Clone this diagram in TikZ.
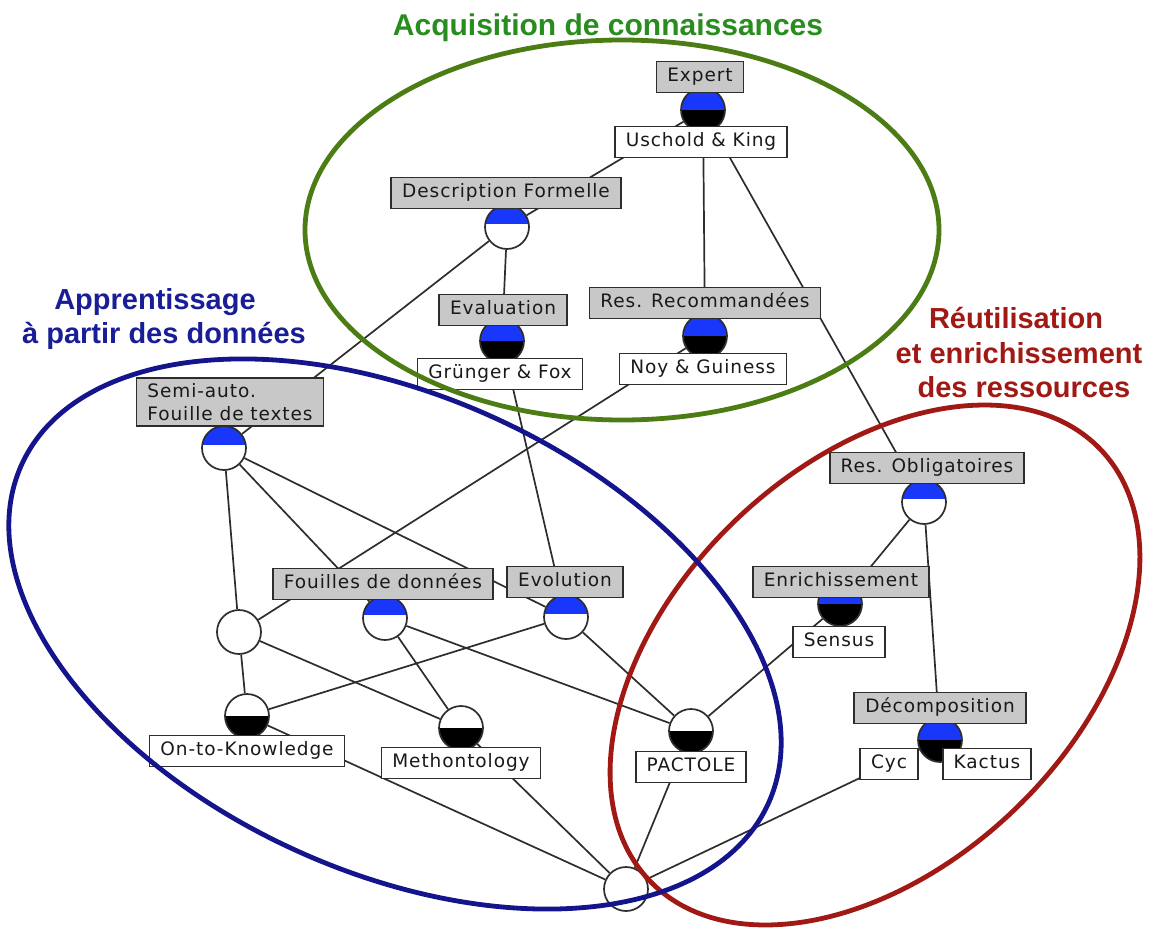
\documentclass[tikz,border=0pt]{standalone}
\usepackage{fontspec}
\newfontfamily\labfont[LetterSpace=5]{DejaVu Sans}
\newfontfamily\titfont{Liberation Sans}
\usetikzlibrary{calc}
\definecolor{lin}{RGB}{45,45,45}
\definecolor{txt}{RGB}{25,25,25}
\definecolor{boxgray}{RGB}{200,200,200}
\definecolor{cblue}{RGB}{25,55,250}
\definecolor{egreen}{RGB}{75,125,20}
\definecolor{tgreen}{RGB}{40,140,30}
\definecolor{eblue}{RGB}{20,20,140}
\definecolor{tblue}{RGB}{25,30,150}
\definecolor{ered}{RGB}{160,25,20}
\pgfdeclarelayer{bg}
\pgfdeclarelayer{fg}
\pgfsetlayers{bg,main,fg}
\tikzset{
  edge/.style={draw=lin, line width=1.7pt},
  conc/.style={circle, draw=lin, line width=1.7pt, fill=white, minimum size=44pt, inner sep=0pt},
  bluewhite/.style={path picture={\fill[cblue] ([yshift=3pt]path picture bounding box.west) rectangle (path picture bounding box.north east);}},
  whiteblack/.style={path picture={\fill[black] (path picture bounding box.west) rectangle (path picture bounding box.south east);}},
  blueblack/.style={path picture={\fill[cblue] (path picture bounding box.west) rectangle (path picture bounding box.north east);\fill[black] (path picture bounding box.west) rectangle (path picture bounding box.south east);}},
  attrlab/.style={draw=lin, line width=1.7pt, fill=boxgray, text=txt, font=\labfont\fontsize{18.5}{23}\selectfont, inner xsep=11pt, inner ysep=0pt, text height=13.5pt, text depth=4.5pt, minimum height=31pt},
  objlab/.style={attrlab, fill=white},
  multilab/.style={draw=lin, line width=1.7pt, fill=boxgray, text=txt, font=\labfont\fontsize{18.5}{23}\selectfont, inner xsep=11pt, inner ysep=5.5pt, align=left},
  titl/.style={font=\titfont\bfseries\fontsize{29}{34}\selectfont, anchor=base, inner sep=0pt},
  ell/.style={line width=4.8pt}
}
\begin{document}
\begin{tikzpicture}[x=1pt,y=-1pt]
\useasboundingbox (0,0) rectangle (1152,929);

% concepts
\node[conc, blueblack] (cExp) at (703,110) {};
\node[conc, bluewhite] (cDF) at (507,227) {};
\node[conc, blueblack] (cEval) at (502,341) {};
\node[conc, blueblack] (cRR) at (705,336) {};
\node[conc, bluewhite] (cSemi) at (224,448) {};
\node[conc, bluewhite] (cFdD) at (385,618) {};
\node[conc, bluewhite] (cEvol) at (566,617) {};
\node[conc] (cEmpty) at (239,632) {};
\node[conc, whiteblack] (cOtK) at (247,716) {};
\node[conc, whiteblack] (cMeth) at (461,728) {};
\node[conc, whiteblack] (cPact) at (691,731) {};
\node[conc] (cBot) at (626,889) {};
\node[conc, bluewhite] (cRO) at (924,502) {};
\node[conc, blueblack] (cEnr) at (840,604) {};
\node[conc, blueblack] (cDec) at (940,740) {};

% labels
\node[attrlab] (lExp) at (700,77) {Expert};
\node[objlab] (lUK) at (701,142) {Uschold \& King};
\node[attrlab] (lDF) at (506,193) {Description Formelle};
\node[attrlab] (lEval) at (503,310) {Evaluation};
\node[objlab] (lGF) at (500,374) {Grünger \& Fox};
\node[attrlab] (lRR) at (705,303) {Res. Recommandées};
\node[objlab] (lNG) at (703,369) {Noy \& Guiness};
\node[multilab] (lSemi) at (230,402) {Semi-auto.\\Fouille de textes};
\node[attrlab] (lFdD) at (383,584) {Fouilles de données};
\node[attrlab] (lEvol) at (565,582) {Evolution};
\node[objlab] (lOtK) at (247,751) {On-to-Knowledge};
\node[objlab] (lMeth) at (461,763) {Methontology};
\node[objlab] (lPact) at (691,767) {PACTOLE};
\node[attrlab] (lRO) at (927,468) {Res. Obligatoires};
\node[attrlab] (lEnr) at (841,582) {Enrichissement};
\node[objlab] (lSens) at (839,642) {Sensus};
\node[attrlab] (lDec) at (940,708) {Décomposition};
\node[objlab] (lCyc) at (889,764) {Cyc};
\node[objlab] (lKac) at (987,764) {Kactus};

% edges
\begin{pgfonlayer}{bg}
\draw[edge] (cExp) -- (cDF);
\draw[edge] (cExp) -- (cRR);
\draw[edge] (cExp) -- (cRO);
\draw[edge] (cDF) -- (cEval);
\draw[edge] (cDF) -- (cSemi);
\draw[edge] (cEval) -- (cEvol);
\draw[edge] (cRR) -- (cEmpty);
\draw[edge] (cSemi) -- (cEmpty);
\draw[edge] (cSemi) -- (cFdD);
\draw[edge] (cSemi) -- (cEvol);
\draw[edge] (cEmpty) -- (cOtK);
\draw[edge] (cEmpty) -- (cMeth);
\draw[edge] (cEvol) -- (cOtK);
\draw[edge] (cEvol) -- (cPact);
\draw[edge] (cFdD) -- (cMeth);
\draw[edge] (cFdD) -- (cPact);
\draw[edge] (cEnr) -- (cPact);
\draw[edge] (cRO) -- (cEnr);
\draw[edge] (cRO) -- (cDec);
\draw[edge] (cOtK) -- (cBot);
\draw[edge] (cMeth) -- (cBot);
\draw[edge] (cPact) -- (cBot);
\draw[edge] (cDec) -- (cBot);
\end{pgfonlayer}

% groups
\begin{pgfonlayer}{fg}
\draw[ell, egreen] (622,230) ellipse [x radius=317pt, y radius=190pt];
\draw[ell, ered, rotate around={43.7:(875,665)}] (875,665) ellipse [x radius=312pt, y radius=201pt];
\draw[ell, eblue, rotate around={-24.4:(395,634)}] (395,634) ellipse [x radius=410pt, y radius=238pt];
\end{pgfonlayer}

% titles
\node[titl, tgreen, font=\titfont\bfseries\fontsize{30}{34}\selectfont] (tAcq) at (608,35) {Acquisition de connaissances};
\node[titl, tblue] (tApp1) at (155,309) {Apprentissage};
\node[titl, tblue] (tApp2) at (164,343) {à partir des données};
\node[titl, ered] (tReu1) at (1016,328) {Réutilisation};
\node[titl, ered] (tReu2) at (1019,363) {et enrichissement};
\node[titl, ered] (tReu3) at (1024,397) {des ressources};
\end{tikzpicture}
\end{document}
